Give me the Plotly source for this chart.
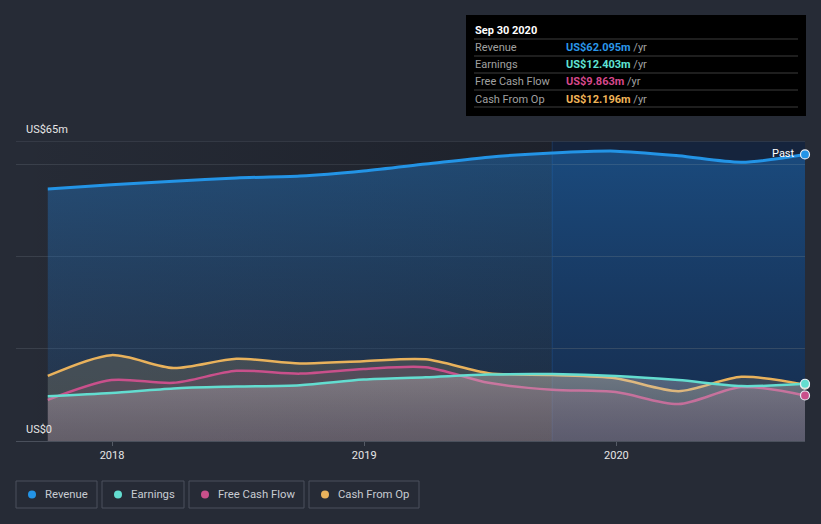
import plotly.graph_objects as go

dates = ["2017-09-30", "2017-12-31", "2018-03-31", "2018-06-30", "2018-09-30",
         "2018-12-31", "2019-03-31", "2019-06-30", "2019-09-30", "2019-12-31",
         "2020-03-31", "2020-06-30", "2020-09-30"]
revenue = [54.6, 55.5, 56.3, 57.0, 57.4, 58.5, 60.0, 61.5, 62.4, 62.8, 61.8, 60.4, 62.095]
earnings = [9.7, 10.4, 11.4, 11.8, 12.1, 13.3, 13.8, 14.4, 14.5, 14.1, 13.2, 11.9, 12.403]
fcf = [8.9, 13.2, 12.6, 15.2, 14.6, 15.6, 16.0, 12.6, 11.1, 10.6, 8.0, 11.7, 9.863]
cfo = [14.1, 18.6, 15.8, 17.8, 16.8, 17.3, 17.7, 14.7, 14.3, 13.6, 10.8, 13.9, 12.196]

series_names = ["Revenue", "Earnings", "Free Cash Flow", "Cash From Op"]
series_colors = ["#2394e6", "#63ddd0", "#c9508b", "#e9b25c"]
value_colors = ["#2a97ea", "#5fe3d5", "#d6488c", "#f0b458"]
latest_labels = ["US$62.095m", "US$12.403m", "US$9.863m", "US$12.196m"]
tip_title = "Sep 30 2020"
y_top_label = "US$65m"
y_zero_label = "US$0"

X0, X1 = "2017-08-15", "2020-09-30"
HL = "2019-09-30"

fig = go.Figure()

# darkening gradient over the past region
fig.add_trace(go.Scatter(x=[X0, HL], y=[65, 65], mode="lines", line=dict(width=0), fill="tozeroy",
                         fillgradient=dict(type="horizontal", colorscale=[[0, "rgba(10,12,18,0.0)"], [1, "rgba(10,12,18,0.30)"]]),
                         hoverinfo="skip"))

# Revenue
fig.add_trace(go.Scatter(x=dates, y=revenue, mode="lines", line=dict(color=series_colors[0], width=3, shape="spline", smoothing=0.8),
                         fill="tozeroy", fillgradient=dict(type="vertical", colorscale=[[0, "rgba(30,100,180,0.14)"], [1, "rgba(35,140,235,0.38)"]], start=0, stop=65),
                         hoverinfo="skip"))
# Cash from op
fig.add_trace(go.Scatter(x=dates, y=cfo, mode="lines", line=dict(color=series_colors[3], width=2.5, shape="spline", smoothing=0.8),
                         fill="tozeroy", fillcolor="rgba(200,170,110,0.20)", hoverinfo="skip"))
# FCF
fig.add_trace(go.Scatter(x=dates, y=fcf, mode="lines", line=dict(color=series_colors[2], width=2.5, shape="spline", smoothing=0.8),
                         fill="tozeroy", fillcolor="rgba(200,90,140,0.13)", hoverinfo="skip"))
# Earnings
fig.add_trace(go.Scatter(x=dates, y=earnings, mode="lines", line=dict(color=series_colors[1], width=2.5, shape="spline", smoothing=0.8),
                         fill="tozeroy", fillgradient=dict(type="vertical", colorscale=[[0, "rgba(150,160,175,0.22)"], [1, "rgba(210,205,205,0.35)"]], start=0, stop=15),
                         hoverinfo="skip"))

# End markers
for vals, col in [(revenue, series_colors[0]), (cfo, series_colors[3]), (earnings, series_colors[1]), (fcf, series_colors[2])]:
    fig.add_trace(go.Scatter(x=[dates[-1]], y=[vals[-1]], mode="markers",
                             marker=dict(size=9, color=col, line=dict(color="#e8eef5", width=1.2)),
                             cliponaxis=False, hoverinfo="skip"))

shapes = [
    dict(type="rect", xref="x", yref="paper", x0=HL, x1=X1, y0=0, y1=1, fillcolor="#15243d", line_width=0, layer="below"),
    dict(type="line", xref="x", yref="paper", x0=HL, x1=HL, y0=0, y1=1, line=dict(color="rgba(30,80,140,0.55)", width=1), layer="below"),
    dict(type="line", xref="paper", yref="y", x0=0, x1=1, y0=65, y1=65, line=dict(color="#444a56", width=1)),
]

# tooltip box
shapes.append(dict(type="rect", xref="paper", yref="paper",
                   x0=(466 - 16) / 789, x1=(806 - 16) / 789, y0=(441 - 116) / 300, y1=(441 - 15) / 300,
                   fillcolor="#000000", line_width=0))
for py in [39, 56, 73, 90, 107]:
    shapes.append(dict(type="line", xref="paper", yref="paper",
                       x0=(474 - 16) / 789, x1=(798 - 16) / 789, y0=(441 - py) / 300, y1=(441 - py) / 300,
                       line=dict(color="#3c3c3c", width=1)))

annotations = [
    dict(x=(473 - 16) / 789, y=(441 - 31) / 300, xref="paper", yref="paper", text="<b>" + tip_title + "</b>",
         showarrow=False, xanchor="left", yanchor="middle", font=dict(color="#ffffff", size=11)),
    dict(x=(24 - 16) / 789, y=(441 - 129) / 300, xref="paper", yref="paper", text=y_top_label,
         showarrow=False, xanchor="left", yanchor="middle", font=dict(color="#e6e6e6", size=11)),
    dict(x=(24 - 16) / 789, y=(441 - 429) / 300, xref="paper", yref="paper", text=y_zero_label,
         showarrow=False, xanchor="left", yanchor="middle", font=dict(color="#e6e6e6", size=11)),
    dict(x=(797 - 16) / 789, y=(441 - 153) / 300, xref="paper", yref="paper", text="Past",
         showarrow=False, xanchor="right", yanchor="middle", font=dict(color="#ffffff", size=11)),
]
for i, (nm, lab, vc) in enumerate(zip(series_names, latest_labels, value_colors)):
    py = 48 + 17 * i
    annotations.append(dict(x=(473 - 16) / 789, y=(441 - py) / 300, xref="paper", yref="paper", text=nm,
                            showarrow=False, xanchor="left", yanchor="middle", font=dict(color="#a0a0a0", size=11)))
    annotations.append(dict(x=(564 - 16) / 789, y=(441 - py) / 300, xref="paper", yref="paper",
                            text=f"<span style='color:{vc}'><b>{lab}</b></span> /yr",
                            showarrow=False, xanchor="left", yanchor="middle", font=dict(color="#a0a0a0", size=11)))

# legend buttons
boxes = [(16, 97), (102, 184), (189, 304), (309, 419)]
for (bx0, bx1), nm, col in zip(boxes, series_names, series_colors):
    shapes.append(dict(type="rect", xref="paper", yref="paper",
                       x0=(bx0 - 16) / 789, x1=(bx1 - 16) / 789, y0=(441 - 508) / 300, y1=(441 - 481) / 300,
                       fillcolor="rgba(0,0,0,0)", line=dict(color="#4a505c", width=1)))
    shapes.append(dict(type="circle", xref="paper", yref="paper",
                       x0=(bx0 + 12 - 16) / 789, x1=(bx0 + 20 - 16) / 789, y0=(441 - 498.5) / 300, y1=(441 - 490.5) / 300,
                       fillcolor=col, line_width=0))
    annotations.append(dict(x=(bx0 + 27 - 16) / 789, y=(441 - 494.5) / 300, xref="paper", yref="paper", text=nm,
                            showarrow=False, xanchor="left", yanchor="middle", font=dict(color="#c8ccd2", size=11.3)))

fig.update_layout(
    width=821, height=524,
    margin=dict(l=16, r=16, t=141, b=83),
    paper_bgcolor="#262b36", plot_bgcolor="#262b36",
    showlegend=False,
    font=dict(family="Roboto, Noto Sans, sans-serif", color="#e6e6e6"),
    shapes=shapes, annotations=annotations,
    xaxis=dict(range=[X0, X1], type="date", tickvals=["2018-01-01", "2019-01-01", "2020-01-01"],
               ticktext=["2018", "2019", "2020"], ticks="outside", ticklen=4, tickcolor="#555b66",
               showgrid=False, zeroline=False, showline=True, linecolor="#4a505c",
               tickfont=dict(color="#e6e6e6", size=11)),
    yaxis=dict(range=[0, 65], tickvals=[0, 20, 40, 60], showticklabels=False, gridcolor="#3a404b",
               zeroline=False, showline=False, fixedrange=True),
)

fig.write_html("out.html")
